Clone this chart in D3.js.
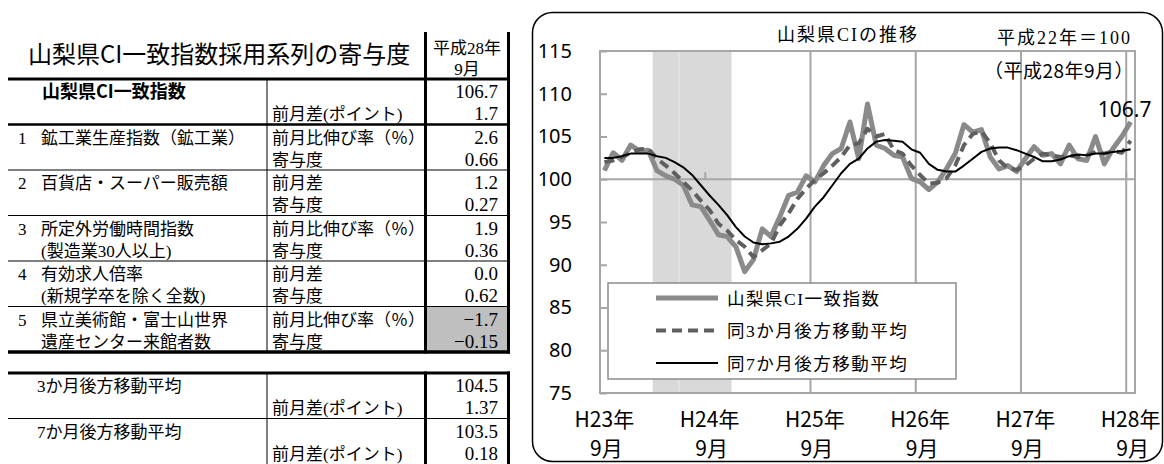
<!DOCTYPE html>
<html lang="ja"><head><meta charset="utf-8">
<script src="https://cdn.jsdelivr.net/npm/d3@7"></script>
<style>
body{margin:0;background:#fff;}
svg{display:block;}
</style></head>
<body>
<svg id="c" width="1164" height="464"></svg>
<script>
// ---------------- DATA ----------------
const months = [
 "H23/9","H23/10","H23/11","H23/12",
 "H24/1","H24/2","H24/3","H24/4","H24/5","H24/6","H24/7","H24/8","H24/9","H24/10","H24/11","H24/12",
 "H25/1","H25/2","H25/3","H25/4","H25/5","H25/6","H25/7","H25/8","H25/9","H25/10","H25/11","H25/12",
 "H26/1","H26/2","H26/3","H26/4","H26/5","H26/6","H26/7","H26/8","H26/9","H26/10","H26/11","H26/12",
 "H27/1","H27/2","H27/3","H27/4","H27/5","H27/6","H27/7","H27/8","H27/9","H27/10","H27/11","H27/12",
 "H28/1","H28/2","H28/3","H28/4","H28/5","H28/6","H28/7","H28/8","H28/9"];

const ciIndex = [
 101.0,103.1,102.2,104.0,103.3,103.4,101.0,100.4,100.0,99.3,97.0,96.8,95.2,93.5,93.3,92.1,
 89.2,90.6,94.2,93.3,95.6,98.1,98.5,100.4,99.7,101.6,103.0,103.6,106.7,102.4,108.8,104.0,
 103.6,102.8,102.6,100.1,99.7,98.8,99.7,101.2,103.0,106.4,105.5,105.8,102.6,101.2,101.6,100.9,
 102.4,103.8,102.8,103.0,101.8,104.0,102.4,102.2,105.0,101.8,103.6,105.0,106.7];

const ma3 = [
 102.0,102.2,102.6,103.1,103.5,103.6,102.4,101.6,100.7,99.7,98.7,97.5,96.4,94.8,94.0,92.9,
 92.1,90.9,91.7,92.5,94.6,96.0,97.7,98.9,99.9,100.7,101.6,102.6,104.0,104.2,105.9,105.0,
 105.3,103.4,103.0,101.6,100.5,99.5,99.6,100.1,101.6,104.0,105.3,105.6,104.2,102.2,101.3,101.1,
 101.6,102.4,103.0,102.8,102.6,102.8,102.6,102.8,103.2,103.0,103.3,103.1,104.5];

const ma7 = [
 102.5,102.5,102.7,103.0,103.0,103.0,102.7,102.5,102.0,101.4,100.5,99.3,98.1,97.0,95.8,94.4,
 93.3,92.6,92.4,92.5,92.7,93.3,94.2,95.4,96.8,97.9,99.3,100.7,101.8,102.4,103.6,104.4,
 104.6,104.5,104.4,103.5,103.1,101.8,101.1,100.9,100.9,101.6,102.4,103.2,103.6,103.7,103.7,103.4,
 103.0,102.6,102.1,102.1,102.3,102.7,102.9,102.8,103.0,103.0,103.2,103.3,103.5];

const yTicks = [75,80,85,90,95,100,105,110,115];
const yearTicks = ["H23/9","H24/9","H25/9","H26/9","H27/9","H28/9"];
const yearLabels = ["H23年","H24年","H25年","H26年","H27年","H28年"];
const monthLabel = "9月";
const recession = ["H24/3","H24/11"];
const shadeSplit = "H24/6";
const seriesNames = ["山梨県CI一致指数","同3か月後方移動平均","同7か月後方移動平均"];

const chartTitle = "山梨県CIの推移";
const baseNote = "平成22年＝100";
const periodNote = "（平成28年9月）";
const lastLabel = "106.7";

// table
const tableTitle = "山梨県CI一致指数採用系列の寄与度";
const tableHeader = ["平成28年","9月"];
const itemNos = ["","1","2","3","4","5"];
const itemNames = [
 ["山梨県CI一致指数",""],
 ["鉱工業生産指数（鉱工業）",""],
 ["百貨店・スーパー販売額",""],
 ["所定外労働時間指数","(製造業30人以上)"],
 ["有効求人倍率","(新規学卒を除く全数)"],
 ["県立美術館・富士山世界","遺産センター来館者数"]];
const itemUnits = [
 ["","前月差(ポイント)"],
 ["前月比伸び率（％）","寄与度"],
 ["前月差","寄与度"],
 ["前月比伸び率（％）","寄与度"],
 ["前月差","寄与度"],
 ["前月比伸び率（％）","寄与度"]];
const itemValues = [
 ["106.7","1.7"],["2.6","0.66"],["1.2","0.27"],["1.9","0.36"],["0.0","0.62"],["−1.7","−0.15"]];
const maNames = ["3か月後方移動平均","7か月後方移動平均"];
const maUnits = [["","前月差(ポイント)"],["","前月差(ポイント)"]];
const maValues = [["104.5","1.37"],["103.5","0.18"]];

// ---------------- DRAW ----------------
const svg = d3.select("#c");
const F_SERIF = "'Liberation Serif','Noto Sans CJK JP',serif";
const F_SANS = "'Noto Sans CJK JP','Noto Sans',sans-serif";
const F_NUM = "'Noto Sans','Open Sans',sans-serif";

// ===== Table =====
const T = svg.append("g");
T.append("text").attr("x",28).attr("y",63).attr("font-family",F_SANS).attr("font-size",24)
 .text(tableTitle);
T.append("text").attr("x",467).attr("y",54).attr("text-anchor","middle").attr("font-family",F_SERIF)
 .attr("font-size",17).text(tableHeader[0]);
T.append("text").attr("x",467).attr("y",75).attr("text-anchor","middle").attr("font-family",F_SERIF)
 .attr("font-size",17).text(tableHeader[1]);

const xL = 8, xR = 510, xNo = 18, xName = 41, xDiv = 267, xUnit = 272, xValDiv = 425.5, xVal = 498;
const grpTop1 = 79, grpH1 = 45.5;
// shaded cells (item 5)
T.append("rect").attr("x",427).attr("y",grpTop1+5*grpH1).attr("width",80).attr("height",grpH1)
 .attr("fill","#bfbfbf");

function drawRows(g, top, nos, names, units, vals, boldFirst){
  names.forEach((nm,i)=>{
    const t0 = top + i*grpH1;
    const b = [t0+19, t0+41];
    if(nos && nos[i]) g.append("text").attr("x",xNo).attr("y",b[0]).attr("font-family",F_SERIF).attr("font-size",17).text(nos[i]);
    nm.forEach((s,k)=>{
      if(!s) return;
      const isBold = boldFirst && i===0 && k===0;
      g.append("text").attr("x", isBold?42:(nos?xName:37)).attr("y",b[k])
       .attr("font-family", isBold?F_SANS:F_SERIF).attr("font-size", isBold?18:17)
       .attr("font-weight", isBold?"bold":"normal").text(s);
    });
    units[i].forEach((s,k)=>{ if(s) g.append("text").attr("x",xUnit).attr("y",b[k]).attr("font-family",F_SERIF).attr("font-size",17).text(s); });
    vals[i].forEach((s,k)=>{ g.append("text").attr("x",xVal).attr("y",b[k]).attr("text-anchor","end").attr("font-family",F_SERIF).attr("font-size",19).text(s); });
  });
}
drawRows(T, grpTop1, itemNos, itemNames, itemUnits, itemValues, true);
const top2 = 373;
drawRows(T, top2, null, maNames.map(n=>[n,""]), maUnits, maValues, false);

// table lines
const hl = (y,w)=>T.append("line").attr("x1",xL).attr("x2",xR).attr("y1",y).attr("y2",y).attr("stroke","#000").attr("stroke-width",w);
hl(grpTop1,3); hl(grpTop1+grpH1,2.5);
for(let i=2;i<=5;i++) hl(grpTop1+i*grpH1,1);
hl(grpTop1+6*grpH1,3.5);
hl(top2,3); hl(top2+grpH1,1);
const vl = (x,y1,y2,w)=>T.append("line").attr("x1",x).attr("x2",x).attr("y1",y1).attr("y2",y2).attr("stroke","#000").attr("stroke-width",w);
vl(xDiv,grpTop1,grpTop1+6*grpH1,1); vl(xDiv,top2,464,1);
vl(xValDiv,32,grpTop1+6*grpH1+1.5,3); vl(xValDiv,top2-1.5,464,3);
vl(508.5,32,grpTop1+6*grpH1+1.5,3); vl(508.5,top2-1.5,464,3);

// ===== Chart =====
const pL=600,pR=1135,pT=51,pB=393;
const x = d3.scaleBand().domain(months).range([pL,pR]).padding(0);
const y = d3.scaleLinear().domain([75,115]).range([pB,pT]);
const cx = m => x(m) + x.bandwidth()/2;

svg.append("rect").attr("x",532.5).attr("y",12.5).attr("width",630).attr("height",449).attr("rx",20)
 .attr("fill","none").attr("stroke","#000").attr("stroke-width",1.5);

const P = svg.append("g");
const GRID = "#a6a6a6";
P.selectAll("line.vg").data(yearTicks.slice(1)).join("line").attr("class","vg")
 .attr("x1",d=>x(d)).attr("x2",d=>x(d)).attr("y1",pT).attr("y2",pB)
 .attr("stroke",GRID).attr("stroke-width",2);
P.append("rect").attr("x",x(recession[0])).attr("y",pT)
 .attr("width",x(recession[1])+x.bandwidth()-x(recession[0])).attr("height",pB-pT).attr("fill","#d9d9d9");
P.append("line").attr("x1",x(shadeSplit)).attr("x2",x(shadeSplit)).attr("y1",pT).attr("y2",pB)
 .attr("stroke","#ececec").attr("stroke-width",1);
P.append("rect").attr("x",pL).attr("y",pT).attr("width",pR-pL).attr("height",pB-pT)
 .attr("fill","none").attr("stroke",GRID).attr("stroke-width",2);

const yAxis = d3.axisLeft(y).tickValues(yTicks).tickSize(-7).tickPadding(28);
const gy = P.append("g").attr("transform",`translate(${pL},0)`).call(yAxis);
gy.select(".domain").remove();
gy.selectAll(".tick line").attr("stroke",GRID).attr("stroke-width",2);
gy.selectAll(".tick text").attr("font-family",F_NUM).attr("font-size",20).attr("fill","#000");

// horizontal axis at 100
P.append("line").attr("x1",pL).attr("x2",pR).attr("y1",y(100)).attr("y2",y(100)).attr("stroke",GRID).attr("stroke-width",2);
P.selectAll("line.xt").data(yearTicks).join("line").attr("class","xt")
 .attr("x1",d=>x(d)).attr("x2",d=>x(d)).attr("y1",y(100)).attr("y2",y(100)-7)
 .attr("stroke",GRID).attr("stroke-width",2);

// x labels
yearTicks.forEach((m,i)=>{
  P.append("text").attr("x",cx(m)).attr("y",pB+34).attr("text-anchor","middle").attr("font-family",F_SANS)
   .attr("font-size",21).text(yearLabels[i]);
  P.append("text").attr("x",cx(m)+2).attr("y",pB+63).attr("text-anchor","middle").attr("font-family",F_SANS)
   .attr("font-size",21).text(monthLabel);
});

// lines
const lineGen = d3.line().x((d,i)=>cx(months[i])).y(d=>y(d));
const styles = [
  {data:ciIndex, stroke:"#8a8a8a", w:5, dash:null},
  {data:ma3, stroke:"#5f5f5f", w:4, dash:"10,6"},
  {data:ma7, stroke:"#000", w:2, dash:null}
];
styles.forEach(s=>{
  P.append("path").attr("d",lineGen(s.data)).attr("fill","none").attr("stroke",s.stroke)
   .attr("stroke-width",s.w).attr("stroke-linejoin","round").attr("stroke-dasharray",s.dash);
});

// legend
const L = svg.append("g");
L.append("rect").attr("x",608).attr("y",283).attr("width",348).attr("height",96)
 .attr("fill","#fff").attr("stroke","#8c8c8c").attr("stroke-width",1.5);
seriesNames.forEach((n,i)=>{
  const ly = 298 + i*32.5;
  L.append("line").attr("x1",656).attr("x2",718).attr("y1",ly).attr("y2",ly)
   .attr("stroke",styles[i].stroke).attr("stroke-width",styles[i].w).attr("stroke-dasharray",styles[i].dash);
  L.append("text").attr("x",727).attr("y",ly+6.5).attr("font-family",F_SERIF).attr("font-size",17.5)
   .attr("letter-spacing",1.5).text(n);
});

// annotations
svg.append("text").attr("x",848).attr("y",41).attr("text-anchor","middle").attr("font-family",F_SERIF)
 .attr("font-size",18).attr("letter-spacing",2).text(chartTitle);
svg.append("text").attr("x",997).attr("y",44).attr("font-family",F_SERIF)
 .attr("font-size",18).attr("letter-spacing",2).text(baseNote);
svg.append("text").attr("x",1059).attr("y",78).attr("text-anchor","middle").attr("font-family",F_SANS)
 .attr("font-size",19).attr("letter-spacing",0.5).text(periodNote);
svg.append("text").attr("x",cx(months[months.length-1])-6).attr("y",y(ciIndex[ciIndex.length-1])-5)
 .attr("text-anchor","middle").attr("font-family",F_NUM).attr("font-size",21).text(lastLabel);
</script>
</body></html>
